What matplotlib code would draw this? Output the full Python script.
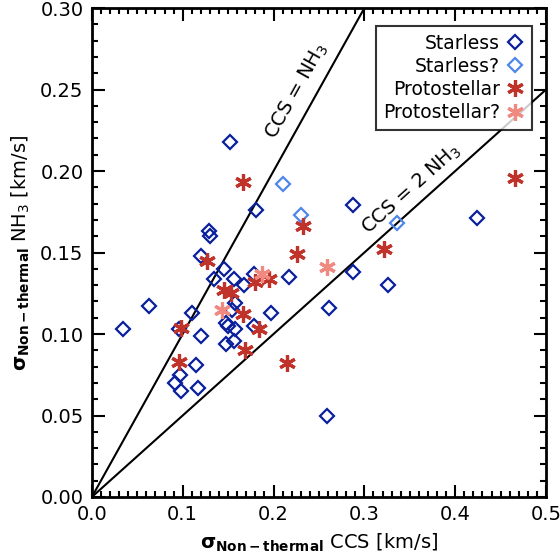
import numpy as np
import matplotlib
matplotlib.use("Agg")
import matplotlib.pyplot as plt
from matplotlib.ticker import MultipleLocator

# non-thermal velocity dispersions [km/s]: (CCS, NH3)
starless_ccs = [0.034, 0.063, 0.092, 0.097, 0.098, 0.096, 0.110, 0.120, 0.115, 0.117,
                0.120, 0.129, 0.130, 0.135, 0.145, 0.152, 0.156, 0.158, 0.154, 0.148,
                0.150, 0.158, 0.148, 0.157, 0.167, 0.179, 0.181, 0.178, 0.197, 0.217,
                0.259, 0.261, 0.288, 0.288, 0.326, 0.424]
starless_nh3 = [0.103, 0.117, 0.070, 0.075, 0.065, 0.103, 0.113, 0.099, 0.081, 0.067,
                0.148, 0.163, 0.160, 0.134, 0.140, 0.218, 0.134, 0.119, 0.115, 0.107,
                0.105, 0.103, 0.094, 0.096, 0.130, 0.137, 0.176, 0.105, 0.113, 0.135,
                0.050, 0.116, 0.138, 0.179, 0.130, 0.171]

starless_q_ccs = [0.210, 0.230, 0.336]
starless_q_nh3 = [0.192, 0.173, 0.168]

proto_ccs = [0.127, 0.098, 0.096, 0.145, 0.153, 0.166, 0.166, 0.169, 0.180, 0.195,
             0.184, 0.215, 0.226, 0.232, 0.322, 0.466]
proto_nh3 = [0.145, 0.104, 0.083, 0.127, 0.125, 0.193, 0.112, 0.090, 0.132, 0.134,
             0.103, 0.082, 0.149, 0.166, 0.152, 0.196]

proto_q_ccs = [0.143, 0.187, 0.259]
proto_q_nh3 = [0.115, 0.137, 0.141]

dark_blue = "#0a1f9c"
light_blue = "#4f86ec"
red = "#c0332b"
pink = "#f08a80"

plt.rcParams["font.family"] = "DejaVu Sans"
plt.rcParams["mathtext.fontset"] = "dejavusans"

fig = plt.figure(figsize=(5.6, 5.6), dpi=100)
ax = fig.add_axes([0.164, 0.1125, 0.811, 0.873])

xline = np.array([0.0, 0.5])
ax.plot(xline, xline, color="black", lw=1.5, zorder=1)
ax.plot(xline, xline / 2, color="black", lw=1.5, zorder=1)

star = (6, 2, 0)
ax.plot(starless_ccs, starless_nh3, ls="none", marker="D", ms=7, mfc="none",
        mec=dark_blue, mew=1.6, label="Starless", zorder=3)
ax.plot(starless_q_ccs, starless_q_nh3, ls="none", marker="D", ms=7, mfc="none",
        mec=light_blue, mew=1.6, label="Starless?", zorder=3)
ax.plot(proto_ccs, proto_nh3, ls="none", marker=star, ms=12, color=red,
        mew=2.3, label="Protostellar", zorder=4)
ax.plot(proto_q_ccs, proto_q_nh3, ls="none", marker=star, ms=12, color=pink,
        mew=2.3, label="Protostellar?", zorder=4)

ax.set_xlim(0, 0.5)
ax.set_ylim(0, 0.30)

# rotate the line labels to follow the lines on screen
fig.canvas.draw()
def screen_angle(slope):
    p0 = ax.transData.transform((0, 0))
    p1 = ax.transData.transform((0.1, 0.1 * slope))
    return np.degrees(np.arctan2(p1[1] - p0[1], p1[0] - p0[0]))

ax.text(0.226, 0.249, r"CCS = NH$_3$", rotation=screen_angle(1.0), fontsize=14,
        ha="center", va="center", rotation_mode="anchor")
ax.text(0.352, 0.189, r"CCS = 2 NH$_3$", rotation=screen_angle(0.5), fontsize=14,
        ha="center", va="center", rotation_mode="anchor")

ax.xaxis.set_major_locator(MultipleLocator(0.1))
ax.xaxis.set_minor_locator(MultipleLocator(0.01))
ax.yaxis.set_major_locator(MultipleLocator(0.05))
ax.yaxis.set_minor_locator(MultipleLocator(0.01))
ax.xaxis.set_major_formatter(plt.FuncFormatter(lambda v, p: f"{v:.1f}"))
ax.yaxis.set_major_formatter(plt.FuncFormatter(lambda v, p: f"{v:.2f}"))
ax.tick_params(which="both", direction="in", top=True, right=True, width=1.5,
               labelsize=14)
ax.tick_params(which="major", length=9, pad=6)
ax.tick_params(which="minor", length=4.5)
for s in ax.spines.values():
    s.set_linewidth(2)

ax.set_xlabel(r"$\mathbf{\sigma_{Non-thermal}}$ CCS [km/s]", fontsize=14, labelpad=5)
ax.set_ylabel(r"$\mathbf{\sigma_{Non-thermal}}$ NH$_3$ [km/s]", fontsize=14, labelpad=6)

leg = ax.legend(loc="upper right", bbox_to_anchor=(0.969, 0.963), borderaxespad=0,
                markerfirst=False, fontsize=13.5, frameon=True, fancybox=False,
                edgecolor="black", borderpad=0.4, handletextpad=0.3,
                labelspacing=0.22, handlelength=1.0)
leg.get_frame().set_linewidth(1.5)
for t in leg.get_texts():
    t.set_ha("right")

fig.savefig("out.png", dpi=100)
